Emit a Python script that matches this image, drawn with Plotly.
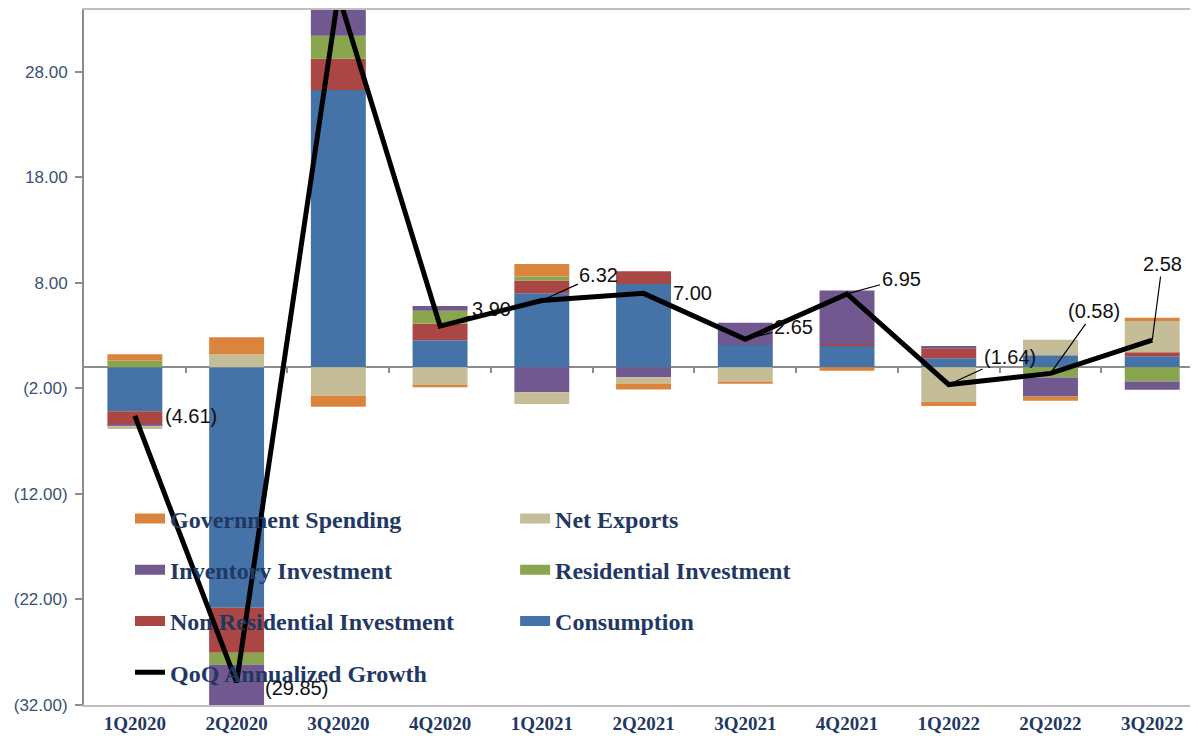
import plotly.graph_objects as go

quarters = ["1Q2020", "2Q2020", "3Q2020", "4Q2020", "1Q2021", "2Q2021",
            "3Q2021", "4Q2021", "1Q2022", "2Q2022", "3Q2022"]
consumption = [-4.17, -22.78, 26.28, 2.55, 7.01, 7.90, 2.10, 2.05, 0.85, 1.15, 1.04]
non_residential = [-1.26, -4.27, 2.94, 1.60, 1.20, 1.20, 0.00, 0.13, 0.95, 0.00, 0.38]
residential = [0.63, -1.11, 2.18, 1.20, 0.38, 0.00, 0.00, 0.00, 0.00, -0.97, -1.36]
inventory = [-0.10, -4.53, 7.63, 0.45, -2.37, -0.95, 2.11, 5.09, 0.22, -1.80, -0.76]
net_exports = [-0.31, 1.23, -2.69, -1.72, -1.10, -0.60, -1.36, 0.00, -3.28, 1.45, 2.96]
government = [0.60, 1.61, -1.04, -0.18, 1.20, -0.55, -0.20, -0.32, -0.38, -0.41, 0.32]
growth = [-4.61, -29.85, 35.30, 3.90, 6.32, 7.00, 2.65, 6.95, -1.64, -0.58, 2.58]

y_ticks = [-32, -22, -12, -2, 8, 18, 28]

COL = {
    "Consumption": "#4572A7",
    "Non Residential Investment": "#AA4643",
    "Residential Investment": "#89A54E",
    "Inventory Investment": "#71588F",
    "Net Exports": "#C4BD97",
    "Government Spending": "#DB843D",
}

def fmt(v):
    return f"({abs(v):.2f})" if v < 0 else f"{v:.2f}"

fig = go.Figure()
series = [
    ("Consumption", consumption),
    ("Non Residential Investment", non_residential),
    ("Residential Investment", residential),
    ("Inventory Investment", inventory),
    ("Net Exports", net_exports),
    ("Government Spending", government),
]
for name, vals in series:
    fig.add_trace(go.Bar(x=quarters, y=vals, name=name, marker_color=COL[name],
                         marker_line_width=0, width=0.54, showlegend=False))

fig.add_trace(go.Scatter(x=quarters, y=growth, mode="lines", name="QoQ Annualized Growth",
                         line=dict(color="black", width=5), showlegend=False))

# helper trace so the zero-line tick axis is drawn
fig.add_trace(go.Scatter(x=[None], y=[None], xaxis="x2", showlegend=False, hoverinfo="skip"))

# legend entries (column 1 and column 2)
col1 = ["Government Spending", "Inventory Investment", "Non Residential Investment"]
col2 = ["Net Exports", "Residential Investment", "Consumption"]
for name in col1:
    fig.add_trace(go.Scatter(x=[None], y=[None], mode="lines", name=name, legend="legend",
                             legendgroup=name, line=dict(color=COL[name], width=10)))
fig.add_trace(go.Scatter(x=[None], y=[None], mode="lines", name="QoQ Annualized Growth",
                         legend="legend", legendgroup="qoq",
                         line=dict(color="black", width=5)))
for name in col2:
    fig.add_trace(go.Scatter(x=[None], y=[None], mode="lines", name=name, legend="legend2",
                             legendgroup=name, line=dict(color=COL[name], width=10)))

# data labels
lab_font = dict(family="Liberation Sans, Arial", size=20, color="#111111")
no_leader = {0: (56, 0), 1: (60, -6), 5: (49, 0)}
leader = {3: (51, -17), 4: (57, -26), 6: (48, -12), 7: (54, -15),
          8: (61, -28), 9: (44, -62), 10: (10, -76)}
for i, v in enumerate(growth):
    if i in no_leader:
        xs, ys = no_leader[i]
        fig.add_annotation(x=quarters[i], y=v, text=fmt(v), showarrow=False,
                           xshift=xs, yshift=ys, font=lab_font)
    elif i in leader:
        ax, ay = leader[i]
        fig.add_annotation(x=quarters[i], y=v, text=fmt(v), showarrow=True,
                           ax=ax, ay=ay, arrowhead=0, arrowwidth=1.2,
                           arrowcolor="black", standoff=0, startstandoff=0,
                           font=lab_font)

y_min, y_max = -32, 33.85
n = len(quarters)
leg_font = dict(family="Liberation Serif, Times New Roman", size=24,
                color="#1F3864", weight="bold")
fig.update_layout(
    width=1190, height=728,
    margin=dict(l=76, r=0, t=2, b=31),
    paper_bgcolor="white", plot_bgcolor="white",
    barmode="relative", bargap=0.46,
    showlegend=True,
    legend=dict(x=0.0413, y=0.30, xanchor="left", yanchor="top",
                bgcolor="rgba(0,0,0,0)", tracegroupgap=17, font=leg_font),
    legend2=dict(x=0.387, y=0.30, xanchor="left", yanchor="top",
                 bgcolor="rgba(0,0,0,0)", tracegroupgap=17, font=leg_font),
    xaxis=dict(type="category", range=[-0.5, n - 0.55], showgrid=False, automargin=False,
               showline=True, linecolor="#BFBFBF", linewidth=1.5, mirror=True,
               ticks="", tickfont=dict(family="Liberation Serif, Times New Roman",
                                        size=19, color="#1F3864", weight="bold")),
    xaxis2=dict(overlaying="x", anchor="free", position=(0 - y_min) / (y_max - y_min),
                range=[-0.5, n - 0.55], tickvals=[i + 0.5 for i in range(n - 1)],
                ticks="outside", ticklen=5, tickwidth=1.5, tickcolor="#8C8C8C",
                showticklabels=False, showline=False, showgrid=False, zeroline=False,
                automargin=False),
    yaxis=dict(range=[y_min, y_max], tickvals=y_ticks, ticktext=[fmt(t) for t in y_ticks],
               showgrid=False, zeroline=True, zerolinecolor="#8C8C8C", zerolinewidth=2,
               showline=True, linecolor="#8C8C8C", linewidth=2, automargin=False,
               ticks="outside", ticklen=7, tickwidth=1.5, tickcolor="#8C8C8C",
               ticklabelstandoff=4,
               tickfont=dict(family="Liberation Sans, Arial", size=17, color="#3A5273")),
)

fig.write_html("out.html")
